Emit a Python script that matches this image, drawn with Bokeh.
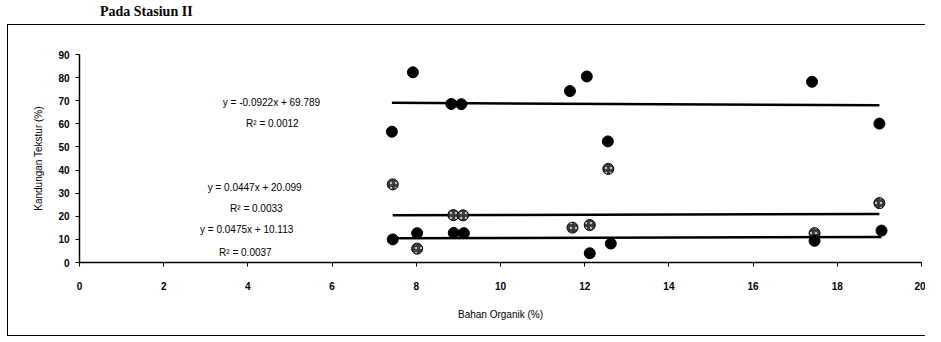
from bokeh.plotting import figure
from bokeh.models import Label, FixedTicker, Div
from bokeh.layouts import column
from bokeh.embed import file_html
from bokeh.resources import INLINE
import numpy as np

# --- data ---
x_top = [7.42, 7.92, 8.83, 9.07, 11.65, 12.05, 12.55, 17.40, 19.00]
y_top = [56.6, 82.3, 68.6, 68.5, 74.2, 80.5, 52.4, 78.2, 60.1]

x_mid = [7.44, 8.02, 8.88, 9.11, 11.71, 12.12, 12.56, 17.46, 19.00]
y_mid = [33.8, 6.0, 20.5, 20.4, 15.1, 16.2, 40.5, 12.7, 25.7]

x_bot = [7.44, 8.02, 8.89, 9.13, 12.12, 12.62, 17.46, 19.05]
y_bot = [10.0, 12.7, 12.8, 12.7, 4.0, 8.2, 9.4, 13.8]

# trend lines (from the chart's equations)
slopes = [-0.0922, 0.0447, 0.0475]
intercepts = [69.789, 20.099, 10.113]
r2 = ["0.0012", "0.0033", "0.0037"]
eq_texts = ["y = -0.0922x + 69.789", "y = 0.0447x + 20.099", "y = 0.0475x + 10.113"]

x_ticks = [0, 2, 4, 6, 8, 10, 12, 14, 16, 18, 20]
y_ticks = [0, 10, 20, 30, 40, 50, 60, 70, 80, 90]

W, H = 918, 312
p = figure(width=W, height=H, x_range=(0, 20), y_range=(0, 90),
           output_backend="svg", toolbar_location=None,
           min_border_left=71, min_border_right=5,
           min_border_top=29, min_border_bottom=75)
p.styles = {"border-left": "1.5px solid black", "border-top": "1.5px solid black",
            "border-bottom": "1.5px solid black", "box-sizing": "border-box"}
p.outline_line_color = None
p.xgrid.grid_line_color = None
p.ygrid.grid_line_color = None
p.background_fill_color = "white"
p.border_fill_color = "white"

for ax in (p.xaxis[0], p.yaxis[0]):
    ax.axis_line_color = "black"
    ax.axis_line_width = 1.5
    ax.major_tick_line_color = "black"
    ax.major_tick_out = 4
    ax.major_tick_in = 0
    ax.minor_tick_line_color = None
    ax.major_label_text_font = "Liberation Sans"
    ax.major_label_text_font_size = "10px"
    ax.major_label_text_font_style = "bold"
    ax.major_label_text_color = "black"
    ax.axis_label_text_font = "Liberation Sans"
    ax.axis_label_text_font_size = "10px"
    ax.axis_label_text_font_style = "normal"
    ax.axis_label_text_color = "black"

p.xaxis.ticker = FixedTicker(ticks=x_ticks)
p.yaxis.ticker = FixedTicker(ticks=y_ticks)
p.xaxis.major_label_standoff = 15
p.yaxis.major_label_standoff = 6
p.xaxis.axis_label = "Bahan Organik (%)"
p.yaxis.axis_label = "Kandungan Tekstur (%)"
p.xaxis.axis_label_standoff = 16
p.yaxis.axis_label_standoff = 11

# trend lines over the x-range of each series
series_x = [x_top, x_mid, x_bot]
for xs, m, b in zip(series_x, slopes, intercepts):
    xl = np.array([min(xs), max(xs)])
    p.line(xl, m * xl + b, line_color="black", line_width=2.5)

# points
p.scatter(x_top, y_top, size=11, fill_color="black", line_color="black")
p.scatter(x_mid, y_mid, size=11, fill_color="#3a3a3a", line_color="black",
          hatch_pattern="dot", hatch_color="#bdbdbd", hatch_scale=5, hatch_weight=1.2)
p.scatter(x_bot, y_bot, size=11, fill_color="black", line_color="black")

# equation labels
eq_pos = [(4.56, 69.3), (4.16, 32.5), (3.97, 14.3)]
r2_pos = [(4.58, 60.2), (4.2, 23.4), (3.94, 4.3)]
for t, (lx, ly) in zip(eq_texts, eq_pos):
    p.add_layout(Label(x=lx, y=ly, text=t, text_align="center", text_baseline="middle",
                       text_font="Liberation Sans", text_font_size="10px", text_color="black"))
for t, (lx, ly) in zip(r2, r2_pos):
    p.add_layout(Label(x=lx, y=ly, text="R² = " + t, text_align="center", text_baseline="middle",
                       text_font="Liberation Sans", text_font_size="10px", text_color="black"))

# heading above the chart
head = Div(text="Pada Stasiun II", width=W, height=14,
           styles={"font-family": "Liberation Serif", "font-weight": "bold",
                   "font-size": "14px", "line-height": "14px", "padding-left": "88px",
                   "color": "black"})

layout = column(head, p, spacing=0, styles={"margin-left": "7px"})
open("out.html", "w").write(file_html(layout, INLINE))
